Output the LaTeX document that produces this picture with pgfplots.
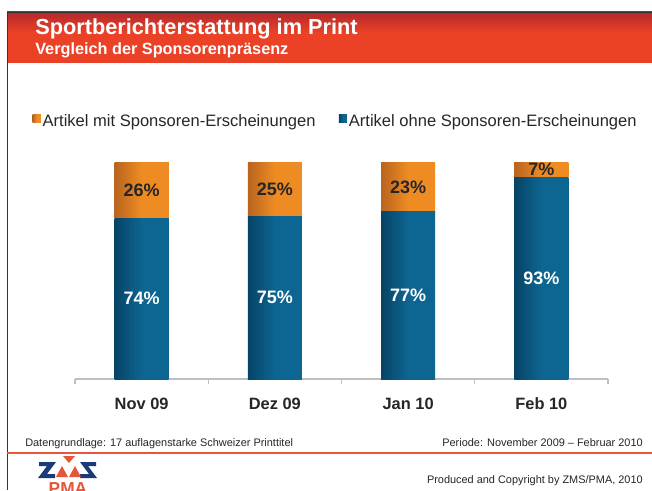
\documentclass[border=0pt]{standalone}
\usepackage{pgfplots}
\pgfplotsset{compat=1.18}
\usepackage{fontspec}
\setmainfont{Liberation Sans}
\definecolor{cBlue}{HTML}{0D6592}
\definecolor{cBlueD}{HTML}{074466}
\definecolor{cOrange}{HTML}{EE8B23}
\definecolor{cOrangeD}{HTML}{B9641F}
\definecolor{hdrTop}{HTML}{B3282A}
\definecolor{hdrBot}{HTML}{EA4127}
\definecolor{footRed}{HTML}{E8553D}
\definecolor{tickC}{HTML}{262626}
\definecolor{logoBlue}{HTML}{1B3A78}
\definecolor{axC}{HTML}{BFBFBF}
\pgfplotsset{
  seglabel/.style={
    point meta=explicit,
    /pgf/number format/assume math mode=true,
    nodes near coords={\pgfmathprintnumber{\pgfplotspointmeta}\%},
    every node near coord/.append style={anchor=center, text=#1, font=\fontsize{13.5}{15}\selectfont\bfseries}},
  blueseg/.style={fill=cBlue, draw=none, left color=cBlueD, right color=cBlue, middle color=cBlue, seglabel=white},
  orangeseg/.style={fill=cOrange, draw=none, left color=cOrangeD, right color=cOrange, middle color=cOrange, seglabel=tickC},
  baseax/.style={
    at={(56.25pt,83.25pt)}, anchor=south west,
    scale only axis, width=399.75pt, height=162.75pt,
    xmin=-0.5, xmax=3.5, ymin=0, ymax=100,
    ybar stacked, bar width=40.5pt, clip=false},
  overax/.style={baseax, hide axis},
}
\begin{document}
\begin{tikzpicture}[x=0.75pt,y=0.75pt]
\useasboundingbox (0,0) rectangle (652,490);
\fill[white] (0,0) rectangle (652,490);
\begin{scope}
\clip (0,0) rectangle (652,490);
% header
\fill[hdrBot] (7,427) rectangle (652,478);
\shade[top color=hdrTop, bottom color=hdrBot] (7,458) rectangle (652,478);
\draw[black!80, line width=0.6pt] (7,478) -- (652,478);
\draw[black!80, line width=0.6pt] (7,478) -- (7,0);
\node[anchor=base west, inner sep=0pt, text=white, font=\fontsize{16.3}{18}\selectfont\bfseries] at (35,455) {Sportberichterstattung im Print};
\node[anchor=base west, inner sep=0pt, text=white, font=\fontsize{12.2}{14}\selectfont\bfseries] at (35,435) {Vergleich der Sponsorenpräsenz};
% footer
\draw[footRed, line width=1.5pt] (7,37.5) -- (652,37.5);
\node[anchor=base west, inner sep=0pt, text=tickC, font=\fontsize{8.2}{10}\selectfont] at (25,44) {Datengrundlage: 17 auflagenstarke Schweizer Printtitel};
\node[anchor=base east, inner sep=0pt, text=tickC, font=\fontsize{8.2}{10}\selectfont] at (643,44) {Periode: November 2009 – Februar 2010};
\node[anchor=base east, inner sep=0pt, text=tickC, font=\fontsize{8.2}{10}\selectfont] at (643,7) {Produced and Copyright by ZMS/PMA, 2010};
% logo
\fill[logoBlue] (39,28) -- (56,28) -- (47,16) -- (55,16) -- (55,12) -- (38,12) -- (47,24) -- (39,24) -- cycle;
\fill[logoBlue] (96,28) -- (80,28) -- (89,16) -- (80,16) -- (80,12) -- (97,12) -- (88,24) -- (96,24) -- cycle;
\fill[footRed] (63,34) -- (75,34) -- (69,27) -- cycle;
\fill[footRed] (56,13) -- (62,24) -- (68,13) -- cycle;
\fill[footRed] (69,13) -- (75,24) -- (81,13) -- cycle;
\node[anchor=north, inner sep=0pt, text=footRed, font=\fontsize{13}{15}\selectfont\bfseries] at (68,8) {PMA};
\end{scope}
% main axis: Nov 09, axis line, ticks, legend
\begin{axis}[
  baseax,
  axis x line*=bottom, axis y line=none,
  x axis line style={draw=axC, line width=1pt},
  xtick={0,1,2,3},
  xticklabels={Nov 09, Dez 09, Jan 10, Feb 10},
  major tick length=0pt,
  extra x ticks={-0.5,0.5,1.5,2.5,3.5},
  extra x tick labels={},
  extra x tick style={major tick length=4pt, tick align=outside, tick style={draw=axC, line width=1pt}},
  xticklabel style={anchor=base, yshift=-22.5pt, text=tickC, font=\fontsize{12.3}{14}\selectfont\bfseries},
  ytick=\empty,
  legend columns=2,
  reverse legend,
  legend style={at={(0.489,1.186)}, anchor=center, draw=none, fill=none,
    font=\fontsize{12.4}{14}\selectfont, inner sep=0pt,
    /tikz/every even column/.append style={column sep=16pt},
    nodes={inner xsep=1.5pt, text=tickC}},
  legend image code/.code={\draw[#1, draw=none] (0pt,-1pt) rectangle (6pt,5.5pt);},
]
\addplot[blueseg] coordinates {(0,74) [74]};
\addlegendentry{Artikel ohne Sponsoren-Erscheinungen}
\addplot[orangeseg] coordinates {(0,26) [26]};
\addlegendentry{Artikel mit Sponsoren-Erscheinungen}
\end{axis}
% Dez 09
\begin{axis}[overax]
\addplot[blueseg] coordinates {(1,75) [75]};
\addplot[orangeseg] coordinates {(1,25) [25]};
\end{axis}
% Jan 10
\begin{axis}[overax]
\addplot[blueseg] coordinates {(2,77) [77]};
\addplot[orangeseg] coordinates {(2,23) [23]};
\end{axis}
% Feb 10
\begin{axis}[overax]
\addplot[blueseg] coordinates {(3,93) [93]};
\addplot[orangeseg] coordinates {(3,7) [7]};
\end{axis}
\end{tikzpicture}
\end{document}
